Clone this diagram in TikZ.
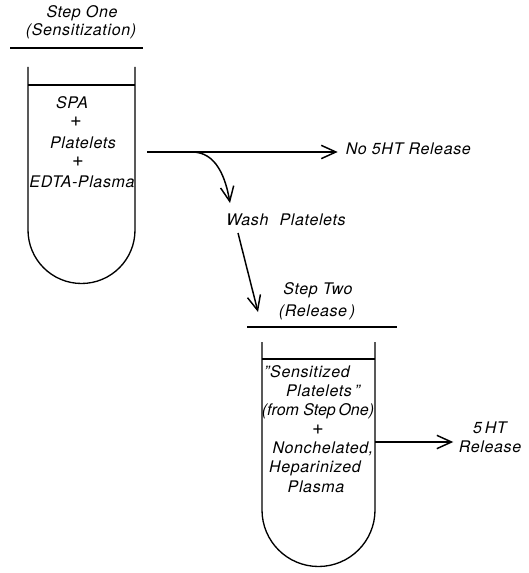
\documentclass[tikz,border=0pt]{standalone}
\usepackage{fontspec}
\setmainfont{TeX Gyre Heros}[LetterSpace=4]
\usetikzlibrary{arrows.meta, positioning}

\begin{document}
\begin{tikzpicture}[x=0.75pt, y=-0.75pt,
    txt/.style={font=\fontsize{12}{14}\selectfont\itshape, inner sep=2pt},
    plus/.style={font=\fontsize{15}{15}\selectfont, inner sep=1pt},
    tube/.style={line width=1pt},
    arrow/.style={-{Straight Barb[length=11pt,width=10pt]}, line width=1.1pt}
]
\useasboundingbox (0,0) rectangle (528,573);

% Step one heading
\node[txt] (head1) at (82,13) {Step One};
\node[txt] (sub1) at (81,31) {(Sensitization)};
\draw[tube] (10,48) -- (143,48);

% Tube one
\draw[tube] (28,67) -- (28,230) arc[start angle=180, end angle=0, radius=53.5] -- (135,67);
\draw[tube] (28,85) -- (135,85);
\node[txt] (spa) at (72,103) {SPA};
\node[plus] (plus1) at (76,122) {+};
\node[txt] (plt1) at (83,143) {Platelets};
\node[plus] (plus2) at (78,162) {+};
\node[txt] (edta) at (82,182) {EDTA-Plasma};

% Outcome of step one
\coordinate (out1) at (147,152);
\coordinate (split) at (192,152);
\node[txt, anchor=west] (nohr) at (343,149) {No 5HT Release};
\draw[arrow, shorten >=4pt] (out1) -- (nohr.west |- out1);

% Washing
\node[txt] (wash) at (286,220) {Wash\hspace{0.7em}Platelets};
\coordinate (washin) at (230,203);
\draw[arrow] (split) to[out=0, in=100] (washin);
\coordinate (washout) at (238,233);
\coordinate (step2in) at (258,312);
\draw[arrow] (washout) -- (step2in);

% Step two heading
\node[txt] (head2) at (318,290) {Step Two};
\node[txt] (sub2) at (317,312) {(Release\,)};
\draw[tube] (247,327) -- (397,327);

% Tube two
\draw[tube] (262,342) -- (262,510) arc[start angle=180, end angle=0, radius=56.5] -- (375,342);
\draw[tube] (262,359) -- (375,359);
\node[txt] (sens) at (307,372) {\symbol{34}Sensitized};
\node[txt] (plt2) at (323,391) {Platelets\,\symbol{34}};
\node[txt] (from) at (318,411) {\addfontfeatures{LetterSpace=0}(from Step\,One)};
\node[plus] (plus3) at (318,430) {+};
\node[txt] (nonch) at (323,449) {Nonchelated,};
\node[txt] (hep) at (315,468) {Heparinized};
\node[txt] (plasma) at (316,487) {Plasma};

% Outcome of step two
\coordinate (out2) at (375,442);
\node[txt, align=center] (rel) at (490,437) {5\,HT\\Release};
\draw[arrow, shorten >=2pt] (out2) -- (rel.west |- out2);
\end{tikzpicture}
\end{document}
